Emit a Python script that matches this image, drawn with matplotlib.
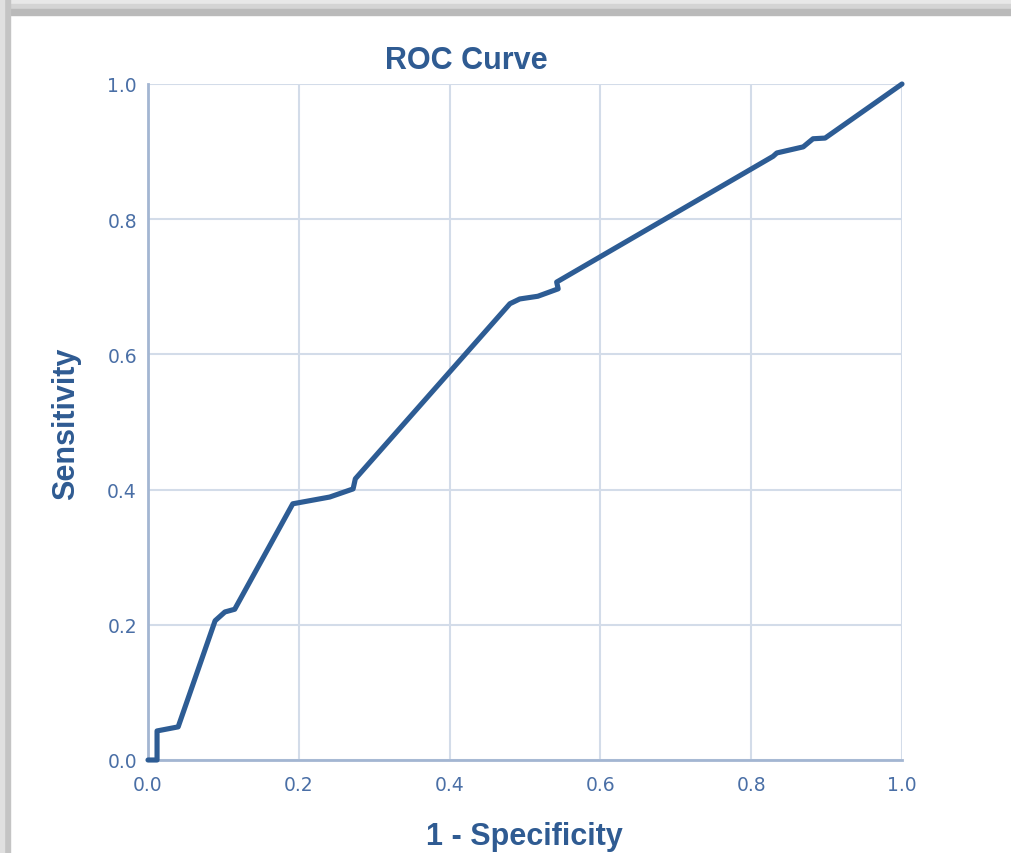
import matplotlib
matplotlib.use("Agg")
import matplotlib.pyplot as plt
from matplotlib.patches import Rectangle

# ROC points (1 - specificity, sensitivity)
fpr = [0.0, 0.012, 0.012, 0.040, 0.089, 0.102, 0.115, 0.192, 0.241, 0.272, 0.275,
       0.480, 0.493, 0.517, 0.544, 0.542, 0.829, 0.834, 0.869, 0.882, 0.898, 1.0]
tpr = [0.0, 0.0, 0.043, 0.049, 0.206, 0.219, 0.223, 0.379, 0.389, 0.401, 0.416,
       0.675, 0.682, 0.686, 0.697, 0.707, 0.893, 0.898, 0.907, 0.919, 0.920, 1.0]
ticks = [0.0, 0.2, 0.4, 0.6, 0.8, 1.0]
tick_labels = ["0.0", "0.2", "0.4", "0.6", "0.8", "1.0"]

line_col = "#2d5c94"
text_col = "#4a6fa6"
title_col = "#2f5b92"
grid_col = "#d3dce9"
axis_col = "#a3b6d2"

W, H = 1012, 854
fig = plt.figure(figsize=(W / 100, H / 100), dpi=100)
fig.patch.set_facecolor("white")

# screenshot frame / shadow
fig.patches.append(Rectangle((0, 1 - 5 / H), 1, 5 / H, transform=fig.transFigure,
                             color="#e8e8e8", zorder=0))
fig.patches.append(Rectangle((0, 1 - 10 / H), 1, 5 / H, transform=fig.transFigure,
                             color="#d4d4d4", zorder=0))
fig.patches.append(Rectangle((0, 1 - 16 / H), 1, 6 / H, transform=fig.transFigure,
                             color="#bababa", zorder=0))
fig.patches.append(Rectangle((0, 0), 10 / W, 1, transform=fig.transFigure,
                             color="#c4c4c4", zorder=0))
fig.patches.append(Rectangle((0, 0), 4 / W, 1, transform=fig.transFigure,
                             color="#e0e0e0", zorder=0))

ax = fig.add_axes([148 / W, 93 / H, 754 / W, 676 / H])
ax.plot(fpr, tpr, color=line_col, lw=3.7, solid_capstyle="round",
        solid_joinstyle="round", zorder=3, clip_on=False)

ax.set_xlim(0, 1)
ax.set_ylim(0, 1)
ax.set_xticks(ticks)
ax.set_yticks(ticks)
ax.set_xticklabels(tick_labels)
ax.set_yticklabels(tick_labels)
ax.grid(True, color=grid_col, lw=1.5, zorder=1)
ax.set_axisbelow(True)
for s in ["top", "right"]:
    ax.spines[s].set_visible(False)
for s in ["left", "bottom"]:
    ax.spines[s].set_color(axis_col)
    ax.spines[s].set_linewidth(2)
ax.tick_params(length=0, labelsize=13.5, labelcolor=text_col)
ax.tick_params(axis="x", pad=11)
ax.tick_params(axis="y", pad=8)

lab = dict(fontsize=22, fontweight="bold", color=title_col, family="Liberation Sans")
fig.text(466 / W, 1 - 69 / H, "ROC Curve", ha="center", va="baseline", **lab)
fig.text(524 / W, 1 - 845 / H, "1 - Specificity", ha="center", va="baseline", **lab)
fig.text(74 / W, 1 - 424 / H, "Sensitivity", ha="center", va="baseline",
         rotation=90, rotation_mode="anchor", **lab)

fig.savefig("out.png", dpi=100)
